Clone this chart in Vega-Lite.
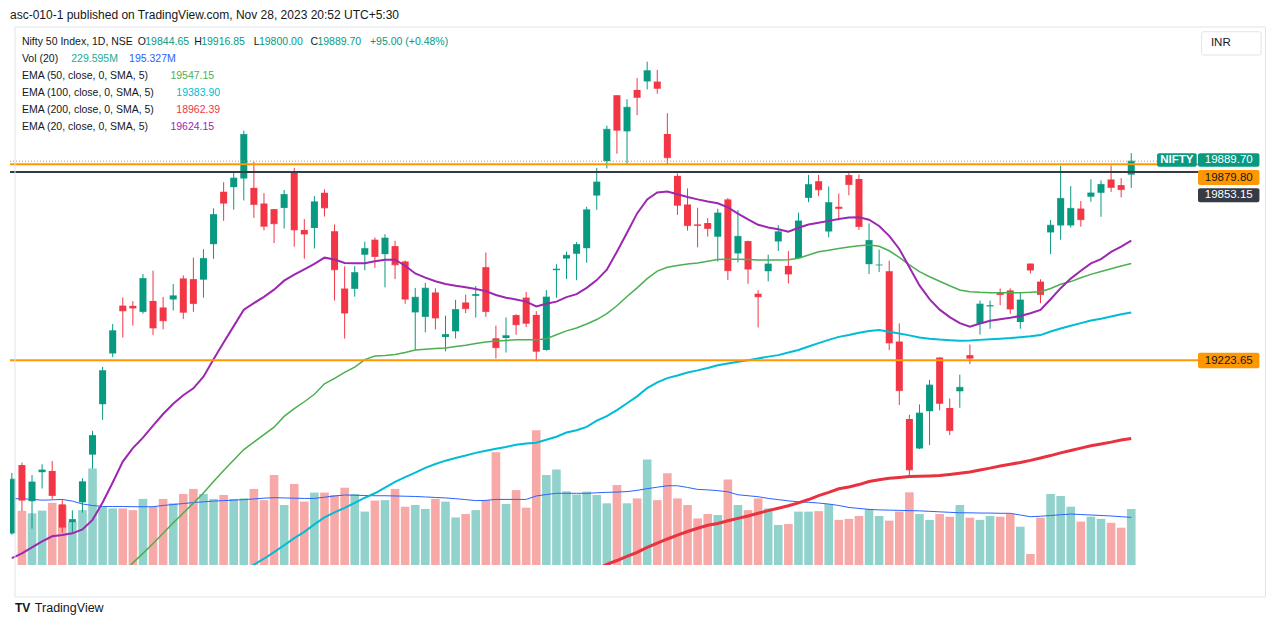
{
"$schema":"https://vega.github.io/schema/vega-lite/v6.json",
"width":1192,"height":538,
"autosize":{"type":"none"},
"padding":{"left":10,"top":27,"right":79,"bottom":62},
"background":"#ffffff",
"title":{"text":"asc-010-1 published on TradingView.com, Nov 28, 2023 20:52 UTC+5:30","anchor":"start","frame":"group","fontSize":12,"fontWeight":"normal","font":"Liberation Sans","color":"#131722","offset":5},
"config":{"view":{"stroke":null},"font":"Liberation Sans","text":{"font":"Liberation Sans"}},
"datasets":{"bars":[
{"i":-1,"d":"2023-06-16","o":18644.55,"h":18847,"l":18640,"c":18826,"vm":272,"e20":18562},
{"i":0,"d":"2023-06-19","o":18873.3,"h":18881.45,"l":18719.15,"c":18755.9,"v":222,"vm":272,"e20":18578},
{"i":1,"d":"2023-06-20","o":18752.35,"h":18839.7,"l":18660.65,"c":18816.7,"v":212,"vm":269,"e20":18598},
{"i":2,"d":"2023-06-21","o":18849.4,"h":18875.9,"l":18794.85,"c":18856.85,"v":223,"vm":266,"e20":18618},
{"i":3,"d":"2023-06-22","o":18853.6,"h":18886.6,"l":18759.5,"c":18771.25,"v":255,"vm":267,"e20":18635},
{"i":4,"d":"2023-06-23","o":18741.85,"h":18756.4,"l":18647.1,"c":18665.5,"v":246,"vm":269,"e20":18639},
{"i":5,"d":"2023-06-26","o":18682.35,"h":18722.05,"l":18646.7,"c":18691.2,"v":178,"vm":262,"e20":18645},
{"i":6,"d":"2023-06-27","o":18748.55,"h":18829.25,"l":18714.25,"c":18817.4,"v":225,"vm":250,"e20":18658},
{"i":7,"d":"2023-06-28","o":18908.15,"h":18987.8,"l":18861.35,"c":18972.1,"v":396,"vm":244,"e20":18690},
{"i":8,"d":"2023-06-30","o":19076.85,"h":19201.7,"l":19024.6,"c":19189.05,"v":239,"vm":240,"e20":18748},
{"i":9,"d":"2023-07-03","o":19246.5,"h":19345.1,"l":19234.4,"c":19322.55,"v":232,"vm":240,"e20":18815},
{"i":10,"d":"2023-07-04","o":19406.7,"h":19434.15,"l":19300,"c":19389,"v":232,"vm":240,"e20":18885,"e50":18512},
{"i":11,"d":"2023-07-05","o":19405.75,"h":19421.6,"l":19339.6,"c":19398.5,"v":225,"vm":239,"e20":18930,"e50":18546},
{"i":12,"d":"2023-07-06","o":19385.7,"h":19512.2,"l":19379.3,"c":19497.3,"v":271,"vm":239,"e20":18965,"e50":18578},
{"i":13,"d":"2023-07-07","o":19422.2,"h":19523.6,"l":19308,"c":19331.8,"v":239,"vm":239,"e20":19005,"e50":18611},
{"i":14,"d":"2023-07-10","o":19400.35,"h":19435.85,"l":19327.1,"c":19355.9,"v":271,"vm":244,"e20":19044,"e50":18645},
{"i":15,"d":"2023-07-11","o":19427.1,"h":19478.8,"l":19390,"c":19439.4,"v":253,"vm":248,"e20":19078,"e50":18680},
{"i":16,"d":"2023-07-12","o":19497.45,"h":19507.7,"l":19362,"c":19384.3,"v":291,"vm":252,"e20":19107,"e50":18713},
{"i":17,"d":"2023-07-13","o":19495.2,"h":19567,"l":19385.8,"c":19413.75,"v":312,"vm":256,"e20":19130,"e50":18746},
{"i":18,"d":"2023-07-14","o":19493.45,"h":19595.35,"l":19433.05,"c":19564.5,"v":291,"vm":259,"e20":19169,"e50":18780},
{"i":19,"d":"2023-07-17","o":19612.15,"h":19731.85,"l":19562.95,"c":19711.45,"v":271,"vm":262,"e20":19227,"e50":18818},
{"i":20,"d":"2023-07-18","o":19787.5,"h":19819.45,"l":19690.2,"c":19749.25,"v":287,"vm":264,"e20":19283,"e50":18855},
{"i":21,"d":"2023-07-19","o":19802.95,"h":19851.7,"l":19727.45,"c":19833.15,"v":271,"vm":266,"e20":19338,"e50":18890},
{"i":22,"d":"2023-07-20","o":19831.7,"h":19991.85,"l":19758.4,"c":19979.15,"v":273,"vm":268,"e20":19393,"e50":18925,"e100":18518},
{"i":23,"d":"2023-07-21","o":19800.45,"h":19887.4,"l":19700,"c":19745,"v":312,"vm":271,"e20":19415,"e50":18950,"e100":18540},
{"i":24,"d":"2023-07-24","o":19748.45,"h":19782.8,"l":19658.3,"c":19672.35,"v":266,"vm":274,"e20":19436,"e50":18975,"e100":18560},
{"i":25,"d":"2023-07-25","o":19729.35,"h":19729.35,"l":19615.95,"c":19680.6,"v":369,"vm":276,"e20":19460,"e50":19000,"e100":18582},
{"i":26,"d":"2023-07-26","o":19733.35,"h":19793.35,"l":19664.55,"c":19778.3,"v":246,"vm":275,"e20":19490,"e50":19036,"e100":18605},
{"i":27,"d":"2023-07-27","o":19850.9,"h":19867.55,"l":19603.55,"c":19659.9,"v":332,"vm":274,"e20":19510,"e50":19062,"e100":18629},
{"i":28,"d":"2023-07-28","o":19659.75,"h":19695.9,"l":19563.1,"c":19646.05,"v":260,"vm":273,"e20":19528,"e50":19085,"e100":18650},
{"i":29,"d":"2023-07-31","o":19666.35,"h":19772.75,"l":19597.6,"c":19753.8,"v":297,"vm":273,"e20":19546,"e50":19110,"e100":18675},
{"i":30,"d":"2023-08-01","o":19784,"h":19795.6,"l":19704.6,"c":19733.55,"v":297,"vm":278,"e20":19567,"e50":19145,"e100":18698},
{"i":31,"d":"2023-08-02","o":19655.4,"h":19678.25,"l":19423.55,"c":19526.55,"v":287,"vm":283,"e20":19561,"e50":19163,"e100":18715},
{"i":32,"d":"2023-08-03","o":19463.75,"h":19537.65,"l":19296.45,"c":19381.65,"v":317,"vm":287,"e20":19549,"e50":19183,"e100":18730},
{"i":33,"d":"2023-08-04","o":19462.8,"h":19538.85,"l":19436.45,"c":19517,"v":291,"vm":286,"e20":19548,"e50":19201,"e100":18747},
{"i":34,"d":"2023-08-07","o":19576.85,"h":19620.45,"l":19524.8,"c":19597.3,"v":219,"vm":285,"e20":19548,"e50":19226,"e100":18764},
{"i":35,"d":"2023-08-08","o":19627.2,"h":19634.4,"l":19533.1,"c":19570.85,"v":264,"vm":284,"e20":19555,"e50":19238,"e100":18779},
{"i":36,"d":"2023-08-09","o":19578.8,"h":19645.5,"l":19467.5,"c":19632.55,"v":266,"vm":284,"e20":19560,"e50":19240,"e100":18798},
{"i":37,"d":"2023-08-10","o":19605.55,"h":19623.6,"l":19495.4,"c":19543.1,"v":312,"vm":283,"e20":19560,"e50":19243,"e100":18817},
{"i":38,"d":"2023-08-11","o":19554.25,"h":19557.75,"l":19412.75,"c":19428.3,"v":239,"vm":282,"e20":19540,"e50":19250,"e100":18833},
{"i":39,"d":"2023-08-14","o":19383.95,"h":19465.85,"l":19257.9,"c":19434.55,"v":246,"vm":281,"e20":19514,"e50":19258,"e100":18848},
{"i":40,"d":"2023-08-16","o":19369,"h":19482.75,"l":19317.2,"c":19465,"v":230,"vm":279,"e20":19500,"e50":19261,"e100":18864},
{"i":41,"d":"2023-08-17","o":19450.55,"h":19464.45,"l":19326.6,"c":19365.25,"v":271,"vm":277,"e20":19488,"e50":19263,"e100":18877},
{"i":42,"d":"2023-08-18","o":19301.75,"h":19373.15,"l":19253.6,"c":19310.15,"v":260,"vm":275,"e20":19479,"e50":19265,"e100":18888},
{"i":43,"d":"2023-08-21","o":19320.65,"h":19425.95,"l":19296.3,"c":19393.6,"v":195,"vm":272,"e20":19473,"e50":19270,"e100":18897},
{"i":44,"d":"2023-08-22","o":19417.1,"h":19443.5,"l":19381.3,"c":19396.45,"v":209,"vm":268,"e20":19468,"e50":19274,"e100":18905},
{"i":45,"d":"2023-08-23","o":19439.2,"h":19472.05,"l":19366.6,"c":19444,"v":225,"vm":264,"e20":19462,"e50":19280,"e100":18914},
{"i":46,"d":"2023-08-24","o":19535.15,"h":19584.45,"l":19369,"c":19386.7,"v":266,"vm":265,"e20":19455,"e50":19285,"e100":18921},
{"i":47,"d":"2023-08-25","o":19297.4,"h":19339.55,"l":19229.7,"c":19265.8,"v":462,"vm":269,"e20":19442,"e50":19288,"e100":18928},
{"i":48,"d":"2023-08-28","o":19298.35,"h":19366.85,"l":19249.7,"c":19306.05,"v":250,"vm":269,"e20":19433,"e50":19290,"e100":18934},
{"i":49,"d":"2023-08-29","o":19374.85,"h":19377.9,"l":19309.1,"c":19342.65,"v":307,"vm":269,"e20":19427,"e50":19292,"e100":18941},
{"i":50,"d":"2023-08-30","o":19433.45,"h":19452.8,"l":19334.75,"c":19347.45,"v":235,"vm":269,"e20":19420,"e50":19292,"e100":18945},
{"i":51,"d":"2023-08-31","o":19375.55,"h":19388.2,"l":19223.65,"c":19253.8,"v":553,"vm":283,"e20":19404,"e50":19292,"e100":18948},
{"i":52,"d":"2023-09-01","o":19258.15,"h":19458.55,"l":19255.7,"c":19435.3,"v":369,"vm":289,"e20":19413,"e50":19296,"e100":18958},
{"i":53,"d":"2023-09-04","o":19525.05,"h":19545.15,"l":19432.85,"c":19528.8,"v":392,"vm":294,"e20":19420,"e50":19309,"e100":18968},
{"i":54,"d":"2023-09-05","o":19563.95,"h":19587.05,"l":19495.2,"c":19574.9,"v":302,"vm":294,"e20":19435,"e50":19322,"e100":18982},
{"i":55,"d":"2023-09-06","o":19580,"h":19619.15,"l":19491.5,"c":19611.05,"v":289,"vm":294,"e20":19445,"e50":19332,"e100":18990},
{"i":56,"d":"2023-09-07","o":19598.65,"h":19737.4,"l":19550.05,"c":19727.05,"v":301,"vm":294,"e20":19466,"e50":19345,"e100":19001},
{"i":57,"d":"2023-09-08","o":19774.8,"h":19867.15,"l":19727.05,"c":19819.95,"v":287,"vm":296,"e20":19492,"e50":19360,"e100":19022,"e200":18525},
{"i":58,"d":"2023-09-11","o":19890,"h":20008.15,"l":19865.35,"c":19996.35,"v":253,"vm":298,"e20":19527,"e50":19380,"e100":19037,"e200":18541},
{"i":59,"d":"2023-09-12","o":20110.35,"h":20110.35,"l":19914.65,"c":19993.2,"v":328,"vm":299,"e20":19587,"e50":19406,"e100":19057,"e200":18554},
{"i":60,"d":"2023-09-13","o":19989.5,"h":20096.9,"l":19878.85,"c":20070,"v":253,"vm":301,"e20":19650,"e50":19437,"e100":19080,"e200":18568},
{"i":61,"d":"2023-09-14","o":20127.95,"h":20167.65,"l":20043.45,"c":20103.1,"v":273,"vm":306,"e20":19715,"e50":19466,"e100":19103,"e200":18581},
{"i":62,"d":"2023-09-15","o":20156.45,"h":20222.45,"l":20129.7,"c":20192.35,"v":433,"vm":313,"e20":19762,"e50":19497,"e100":19131,"e200":18598},
{"i":63,"d":"2023-09-18","o":20155.95,"h":20195.35,"l":20115.7,"c":20133.3,"v":266,"vm":319,"e20":19785,"e50":19522,"e100":19150,"e200":18612},
{"i":64,"d":"2023-09-20","o":19980.75,"h":20050.35,"l":19878.85,"c":19901.4,"v":376,"vm":325,"e20":19788,"e50":19535,"e100":19164,"e200":18626},
{"i":65,"d":"2023-09-21","o":19840.55,"h":19848.75,"l":19709.95,"c":19742.35,"v":273,"vm":325,"e20":19779,"e50":19541,"e100":19173,"e200":18639},
{"i":66,"d":"2023-09-22","o":19744.85,"h":19798.65,"l":19657.5,"c":19674.25,"v":246,"vm":318,"e20":19770,"e50":19546,"e100":19183,"e200":18651},
{"i":67,"d":"2023-09-25","o":19678.2,"h":19734.15,"l":19601.55,"c":19674.55,"v":191,"vm":310,"e20":19762,"e50":19549,"e100":19190,"e200":18662},
{"i":68,"d":"2023-09-26","o":19682.8,"h":19699.35,"l":19637.45,"c":19664.7,"v":209,"vm":308,"e20":19755,"e50":19555,"e100":19198,"e200":18672},
{"i":69,"d":"2023-09-27","o":19637.05,"h":19730.7,"l":19554,"c":19716.45,"v":205,"vm":305,"e20":19749,"e50":19561,"e100":19207,"e200":18678},
{"i":70,"d":"2023-09-28","o":19761.8,"h":19766.65,"l":19492.1,"c":19523.55,"v":351,"vm":300,"e20":19735,"e50":19562,"e100":19213,"e200":18687},
{"i":71,"d":"2023-09-29","o":19581.2,"h":19726.25,"l":19551.05,"c":19638.3,"v":246,"vm":288,"e20":19714,"e50":19562,"e100":19219,"e200":18695},
{"i":72,"d":"2023-10-03","o":19622.4,"h":19623.6,"l":19479.65,"c":19528.75,"v":225,"vm":284,"e20":19695,"e50":19561,"e100":19224,"e200":18703},
{"i":73,"d":"2023-10-04","o":19446.3,"h":19457.8,"l":19333.6,"c":19436.1,"v":273,"vm":280,"e20":19677,"e50":19559,"e100":19230,"e200":18712},
{"i":74,"d":"2023-10-05","o":19521.6,"h":19576.95,"l":19487.75,"c":19545.75,"v":232,"vm":273,"e20":19668,"e50":19559,"e100":19236,"e200":18721},
{"i":75,"d":"2023-10-06","o":19621.2,"h":19675.75,"l":19589.4,"c":19653.5,"v":164,"vm":268,"e20":19662,"e50":19559,"e100":19241,"e200":18729},
{"i":76,"d":"2023-10-09","o":19539.45,"h":19588.95,"l":19480.5,"c":19512.35,"v":168,"vm":263,"e20":19654,"e50":19560,"e100":19250,"e200":18737},
{"i":77,"d":"2023-10-10","o":19565.65,"h":19717.8,"l":19565.45,"c":19689.85,"v":219,"vm":259,"e20":19667,"e50":19565,"e100":19258,"e200":18747},
{"i":78,"d":"2023-10-11","o":19767,"h":19843.6,"l":19752.5,"c":19811.35,"v":219,"vm":257,"e20":19678,"e50":19576,"e100":19270,"e200":18758},
{"i":79,"d":"2023-10-12","o":19822.7,"h":19843.65,"l":19772.65,"c":19794,"v":221,"vm":254,"e20":19684,"e50":19587,"e100":19281,"e200":18771},
{"i":80,"d":"2023-10-13","o":19654.55,"h":19805.4,"l":19635.3,"c":19751.05,"v":250,"vm":250,"e20":19690,"e50":19592,"e100":19292,"e200":18782},
{"i":81,"d":"2023-10-16","o":19737.25,"h":19781.3,"l":19691.85,"c":19731.75,"v":185,"vm":244,"e20":19696,"e50":19598,"e100":19302,"e200":18794},
{"i":82,"d":"2023-10-17","o":19843.2,"h":19849.75,"l":19775.65,"c":19811.5,"v":189,"vm":236,"e20":19701,"e50":19603,"e100":19308,"e200":18800},
{"i":83,"d":"2023-10-18","o":19830,"h":19845,"l":19659.95,"c":19671.1,"v":201,"vm":232,"e20":19702,"e50":19607,"e100":19316,"e200":18808},
{"i":84,"d":"2023-10-19","o":19545.2,"h":19681.8,"l":19512.35,"c":19624.7,"v":230,"vm":228,"e20":19694,"e50":19609,"e100":19322,"e200":18818},
{"i":85,"d":"2023-10-20","o":19542.15,"h":19593.8,"l":19518.7,"c":19542.65,"v":201,"vm":226,"e20":19673,"e50":19605,"e100":19325,"e200":18824},
{"i":86,"d":"2023-10-23","o":19521.6,"h":19556.85,"l":19257.85,"c":19281.75,"v":182,"vm":225,"e20":19640,"e50":19590,"e100":19319,"e200":18829},
{"i":87,"d":"2023-10-25","o":19286.45,"h":19347.3,"l":19074.15,"c":19122.15,"v":219,"vm":224,"e20":19596,"e50":19568,"e100":19313,"e200":18832},
{"i":88,"d":"2023-10-26","o":19027.25,"h":19041.7,"l":18837.85,"c":18857.25,"v":298,"vm":223,"e20":19535,"e50":19543,"e100":19307,"e200":18835},
{"i":89,"d":"2023-10-27","o":18928.75,"h":19076.15,"l":18926.65,"c":19047.25,"v":209,"vm":222,"e20":19474,"e50":19520,"e100":19300,"e200":18836},
{"i":90,"d":"2023-10-30","o":19053.4,"h":19158.5,"l":18940,"c":19140.9,"v":185,"vm":220,"e20":19428,"e50":19503,"e100":19296,"e200":18837},
{"i":91,"d":"2023-10-31","o":19232.95,"h":19233.7,"l":19056.45,"c":19079.6,"v":209,"vm":218,"e20":19393,"e50":19488,"e100":19293,"e200":18838},
{"i":92,"d":"2023-11-01","o":19064.05,"h":19096.25,"l":18973.7,"c":18989.15,"v":198,"vm":216,"e20":19368,"e50":19473,"e100":19291,"e200":18842},
{"i":93,"d":"2023-11-02","o":19120,"h":19175.6,"l":19064.85,"c":19133.25,"v":246,"vm":214,"e20":19348,"e50":19459,"e100":19289,"e200":18846},
{"i":94,"d":"2023-11-03","o":19241,"h":19276.25,"l":19210.9,"c":19230.6,"v":194,"vm":214,"e20":19336,"e50":19453,"e100":19290,"e200":18850},
{"i":95,"d":"2023-11-06","o":19345.85,"h":19423.5,"l":19309.7,"c":19411.75,"v":185,"vm":213,"e20":19347,"e50":19451,"e100":19292,"e200":18857},
{"i":96,"d":"2023-11-07","o":19404.15,"h":19423.3,"l":19329.1,"c":19406.7,"v":201,"vm":213,"e20":19356,"e50":19450,"e100":19294,"e200":18863},
{"i":97,"d":"2023-11-08","o":19449.6,"h":19463.9,"l":19407.9,"c":19443.5,"v":198,"vm":212,"e20":19361,"e50":19450,"e100":19296,"e200":18870},
{"i":98,"d":"2023-11-09","o":19457.45,"h":19464.4,"l":19378.95,"c":19395.3,"v":209,"vm":212,"e20":19366,"e50":19450,"e100":19298,"e200":18876},
{"i":99,"d":"2023-11-10","o":19351.85,"h":19451.3,"l":19329.45,"c":19425.35,"v":157,"vm":205,"e20":19372,"e50":19450,"e100":19301,"e200":18882},
{"i":100,"d":"2023-11-12","o":19547.25,"h":19547.25,"l":19514,"c":19525.55,"v":45,"vm":198,"e20":19381,"e50":19451,"e100":19304,"e200":18889},
{"i":101,"d":"2023-11-13","o":19486.8,"h":19494.6,"l":19414.75,"c":19443.55,"v":194,"vm":200,"e20":19392,"e50":19453,"e100":19308,"e200":18897},
{"i":102,"d":"2023-11-15","o":19651.4,"h":19693.2,"l":19579.3,"c":19675.45,"v":291,"vm":203,"e20":19428,"e50":19464,"e100":19320,"e200":18905},
{"i":103,"d":"2023-11-16","o":19674.7,"h":19875.25,"l":19627,"c":19765.2,"v":283,"vm":206,"e20":19465,"e50":19478,"e100":19330,"e200":18914},
{"i":104,"d":"2023-11-17","o":19674.75,"h":19806,"l":19667.45,"c":19731.8,"v":239,"vm":209,"e20":19497,"e50":19487,"e100":19339,"e200":18922},
{"i":105,"d":"2023-11-20","o":19731.15,"h":19756.45,"l":19670.5,"c":19694,"v":178,"vm":207,"e20":19523,"e50":19500,"e100":19348,"e200":18930},
{"i":106,"d":"2023-11-21","o":19770.9,"h":19829.1,"l":19754.05,"c":19783.4,"v":198,"vm":205,"e20":19548,"e50":19511,"e100":19357,"e200":18938},
{"i":107,"d":"2023-11-22","o":19784,"h":19825.55,"l":19703.85,"c":19811.85,"v":189,"vm":203,"e20":19562,"e50":19521,"e100":19363,"e200":18944},
{"i":108,"d":"2023-11-23","o":19828.45,"h":19875.15,"l":19786.75,"c":19802,"v":173,"vm":201,"e20":19586,"e50":19530,"e100":19370,"e200":18950},
{"i":109,"d":"2023-11-24","o":19809.6,"h":19832.85,"l":19768.85,"c":19794.7,"v":153,"vm":198,"e20":19604,"e50":19539,"e100":19378,"e200":18957},
{"i":110,"d":"2023-11-28","o":19844.65,"h":19916.85,"l":19800,"c":19889.7,"v":229.6,"vm":195.3,"e20":19624.15,"e50":19547.15,"e100":19383.9,"e200":18962.39}
]},
"layer":[
{"data":{"name":"bars"},"layer":[
 {"mark":{"type":"bar","orient":"vertical","size":8.6,"clip":true},
  "encoding":{
   "x":{"field":"i","type":"quantitative","scale":{"domain":[-0.688,116.52],"nice":false,"zero":false},
        "axis":{"values":[0,9,19,30,39,52,63,72,81,92,101,113],"labelExpr":"['19','Jul','17','Aug','14','Sep','18','Oct','16','Nov','13','Dec'][indexof([0,9,19,30,39,52,63,72,81,92,101,113], datum.value)]","title":null,"domain":false,"ticks":false,"grid":true,"gridColor":"#f0f3fa","labelColor":"#131722","labelFontSize":11.5,"labelFont":"Liberation Sans","labelPadding":7,"labelFlush":false,"labelOverlap":false}},
   "y":{"field":"v","type":"quantitative","scale":{"domain":[0,2206],"nice":false,"zero":false},"axis":null},
   "color":{"condition":{"test":"datum.c >= datum.o","value":"#92d2cc"},"value":"#f7a9a7"}}},
 {"mark":{"type":"line","color":"#2962ff","strokeWidth":1,"clip":true},
  "encoding":{
   "x":{"field":"i","type":"quantitative","scale":{"domain":[-0.688,116.52],"nice":false,"zero":false},"axis":null},
   "y":{"field":"vm","type":"quantitative","scale":{"domain":[0,2206],"nice":false,"zero":false},"axis":null}}}
]},
{"layer":[
 {"data":{"name":"bars"},"mark":{"type":"rule","strokeWidth":1,"clip":true},
  "encoding":{
   "x":{"field":"i","type":"quantitative","scale":{"domain":[-0.688,116.52],"nice":false,"zero":false},"axis":null},
   "y":{"field":"l","type":"quantitative","scale":{"domain":[18539,20338.5],"nice":false,"zero":false},
        "axis":{"orient":"right","values":[18700,18900,19100,19300,19500,19700,19900,20100,20300],"labelExpr":"datum.value == 19900 || datum.value == 20300 ? '' : format(datum.value, '.2f')","title":null,"domain":false,"ticks":false,"grid":true,"gridColor":"#f0f3fa","labelColor":"#131722","labelFontSize":11.5,"labelFont":"Liberation Sans","labelPadding":10,"labelOverlap":false}},
   "y2":{"field":"h"},
   "color":{"condition":{"test":"datum.c >= datum.o","value":"#089981"},"value":"#f23645"}}},
 {"data":{"name":"bars"},"mark":{"type":"bar","orient":"vertical","size":7,"clip":true},
  "encoding":{
   "x":{"field":"i","type":"quantitative","scale":{"domain":[-0.688,116.52],"nice":false,"zero":false},"axis":null},
   "y":{"field":"o","type":"quantitative","scale":{"domain":[18539,20338.5],"nice":false,"zero":false},"axis":null},
   "y2":{"field":"c"},
   "color":{"condition":{"test":"datum.c >= datum.o","value":"#089981"},"value":"#f23645"}}},
 {"data":{"name":"bars"},"mark":{"type":"tick","orient":"horizontal","size":7,"thickness":1,"clip":true},
  "encoding":{
   "x":{"field":"i","type":"quantitative","scale":{"domain":[-0.688,116.52],"nice":false,"zero":false},"axis":null},
   "y":{"field":"c","type":"quantitative","scale":{"domain":[18539,20338.5],"nice":false,"zero":false},"axis":null},
   "color":{"condition":{"test":"datum.c >= datum.o","value":"#089981"},"value":"#f23645"}}},
 {"data":{"name":"bars"},"mark":{"type":"line","color":"#4caf50","strokeWidth":1.5,"clip":true},
  "encoding":{
   "x":{"field":"i","type":"quantitative","scale":{"domain":[-0.688,116.52],"nice":false,"zero":false},"axis":null},
   "y":{"field":"e50","type":"quantitative","scale":{"domain":[18539,20338.5],"nice":false,"zero":false},"axis":null}}},
 {"data":{"name":"bars"},"mark":{"type":"line","color":"#00bcd4","strokeWidth":2,"clip":true},
  "encoding":{
   "x":{"field":"i","type":"quantitative","scale":{"domain":[-0.688,116.52],"nice":false,"zero":false},"axis":null},
   "y":{"field":"e100","type":"quantitative","scale":{"domain":[18539,20338.5],"nice":false,"zero":false},"axis":null}}},
 {"data":{"name":"bars"},"mark":{"type":"line","color":"#e8323f","strokeWidth":3,"clip":true},
  "encoding":{
   "x":{"field":"i","type":"quantitative","scale":{"domain":[-0.688,116.52],"nice":false,"zero":false},"axis":null},
   "y":{"field":"e200","type":"quantitative","scale":{"domain":[18539,20338.5],"nice":false,"zero":false},"axis":null}}},
 {"data":{"name":"bars"},"mark":{"type":"line","color":"#9c27b0","strokeWidth":2,"clip":true},
  "encoding":{
   "x":{"field":"i","type":"quantitative","scale":{"domain":[-0.688,116.52],"nice":false,"zero":false},"axis":null},
   "y":{"field":"e20","type":"quantitative","scale":{"domain":[18539,20338.5],"nice":false,"zero":false},"axis":null}}},
 {"data":{"values":[{}]},"mark":{"type":"rule","color":"#ff9800","strokeWidth":2},
  "encoding":{"y":{"datum":19223.65,"type":"quantitative","scale":{"domain":[18539,20338.5],"nice":false,"zero":false},"axis":null}}},
 {"data":{"values":[{}]},"mark":{"type":"rule","color":"#363a45","strokeWidth":2},
  "encoding":{"y":{"datum":19853.15,"type":"quantitative","scale":{"domain":[18539,20338.5],"nice":false,"zero":false},"axis":null}}},
 {"data":{"values":[{}]},"mark":{"type":"rule","color":"#ff9800","strokeWidth":2},
  "encoding":{"y":{"datum":19879.8,"type":"quantitative","scale":{"domain":[18539,20338.5],"nice":false,"zero":false},"axis":null}}},
 {"data":{"values":[{}]},"mark":{"type":"rule","color":"#c8953a","strokeWidth":1,"strokeDash":[1,2]},
  "encoding":{"y":{"datum":19889.7,"type":"quantitative","scale":{"domain":[18539,20338.5],"nice":false,"zero":false},"axis":null}}},
 {"data":{"values":[{}]},"mark":{"type":"rect","fillOpacity":0,"stroke":"#e0e3eb","strokeWidth":1},
  "encoding":{"x":{"datum":-0.688,"type":"quantitative","scale":{"domain":[-0.688,116.52],"nice":false,"zero":false},"axis":null},"x2":{"datum":123.31},
   "y":{"datum":18432,"type":"quantitative","scale":{"domain":[18539,20338.5],"nice":false,"zero":false},"axis":null},"y2":{"datum":20338.5}}},
 {"data":{"values":[{}]},"mark":{"type":"rect","fill":"#089981","cornerRadius":2},
  "encoding":{"x":{"datum":112.56,"type":"quantitative","scale":{"domain":[-0.688,116.52],"nice":false,"zero":false},"axis":null},"x2":{"datum":116.49},
   "y":{"datum":19871.2,"type":"quantitative","scale":{"domain":[18539,20338.5],"nice":false,"zero":false},"axis":null},"y2":{"datum":19916}}},
 {"data":{"values":[{}]},"mark":{"type":"rect","fill":"#089981","cornerRadius":2},
  "encoding":{"x":{"datum":116.62,"type":"quantitative","scale":{"domain":[-0.688,116.52],"nice":false,"zero":false},"axis":null},"x2":{"datum":122.71},
   "y":{"datum":19871.2,"type":"quantitative","scale":{"domain":[18539,20338.5],"nice":false,"zero":false},"axis":null},"y2":{"datum":19916}}},
 {"data":{"values":[{}]},"mark":{"type":"rect","fill":"#ff9800","cornerRadius":2},
  "encoding":{"x":{"datum":116.62,"type":"quantitative","scale":{"domain":[-0.688,116.52],"nice":false,"zero":false},"axis":null},"x2":{"datum":122.71},
   "y":{"datum":19810,"type":"quantitative","scale":{"domain":[18539,20338.5],"nice":false,"zero":false},"axis":null},"y2":{"datum":19860.2}}},
 {"data":{"values":[{}]},"mark":{"type":"rect","fill":"#363a45","cornerRadius":2},
  "encoding":{"x":{"datum":116.62,"type":"quantitative","scale":{"domain":[-0.688,116.52],"nice":false,"zero":false},"axis":null},"x2":{"datum":122.71},
   "y":{"datum":19752.2,"type":"quantitative","scale":{"domain":[18539,20338.5],"nice":false,"zero":false},"axis":null},"y2":{"datum":19799}}},
 {"data":{"values":[{}]},"mark":{"type":"rect","fill":"#ff9800","cornerRadius":2},
  "encoding":{"x":{"datum":116.62,"type":"quantitative","scale":{"domain":[-0.688,116.52],"nice":false,"zero":false},"axis":null},"x2":{"datum":122.71},
   "y":{"datum":19197,"type":"quantitative","scale":{"domain":[18539,20338.5],"nice":false,"zero":false},"axis":null},"y2":{"datum":19249.2}}},
 {"data":{"values":[{}]},"mark":{"type":"rect","fill":"#ffffff","stroke":"#e0e3eb","strokeWidth":1,"cornerRadius":2},
  "encoding":{"x":{"datum":116.98,"type":"quantitative","scale":{"domain":[-0.688,116.52],"nice":false,"zero":false},"axis":null},"x2":{"datum":122.88},
   "y":{"datum":20244.8,"type":"quantitative","scale":{"domain":[18539,20338.5],"nice":false,"zero":false},"axis":null},"y2":{"datum":20322.7}}},
 {"data":{"values":[{}]},"mark":{"type":"text","text":"INR","fontSize":11.5,"color":"#131722","align":"center","baseline":"middle"},
  "encoding":{"x":{"datum":118.88,"type":"quantitative","scale":{"domain":[-0.688,116.52],"nice":false,"zero":false},"axis":null},
   "y":{"datum":20284,"type":"quantitative","scale":{"domain":[18539,20338.5],"nice":false,"zero":false},"axis":null}}},
 {"data":{"values":[{}]},"mark":{"type":"text","text":"NIFTY","fontSize":11.5,"fontWeight":"bold","color":"#ffffff","align":"center","baseline":"middle"},
  "encoding":{"x":{"datum":114.52,"type":"quantitative","scale":{"domain":[-0.688,116.52],"nice":false,"zero":false},"axis":null},
   "y":{"datum":19893.6,"type":"quantitative","scale":{"domain":[18539,20338.5],"nice":false,"zero":false},"axis":null}}},
 {"data":{"values":[{}]},"mark":{"type":"text","text":"19889.70","fontSize":11.5,"color":"#ffffff","align":"center","baseline":"middle"},
  "encoding":{"x":{"datum":119.67,"type":"quantitative","scale":{"domain":[-0.688,116.52],"nice":false,"zero":false},"axis":null},
   "y":{"datum":19893.6,"type":"quantitative","scale":{"domain":[18539,20338.5],"nice":false,"zero":false},"axis":null}}},
 {"data":{"values":[{}]},"mark":{"type":"text","text":"19879.80","fontSize":11.5,"color":"#131722","align":"center","baseline":"middle"},
  "encoding":{"x":{"datum":119.67,"type":"quantitative","scale":{"domain":[-0.688,116.52],"nice":false,"zero":false},"axis":null},
   "y":{"datum":19835,"type":"quantitative","scale":{"domain":[18539,20338.5],"nice":false,"zero":false},"axis":null}}},
 {"data":{"values":[{}]},"mark":{"type":"text","text":"19853.15","fontSize":11.5,"color":"#ffffff","align":"center","baseline":"middle"},
  "encoding":{"x":{"datum":119.67,"type":"quantitative","scale":{"domain":[-0.688,116.52],"nice":false,"zero":false},"axis":null},
   "y":{"datum":19775.6,"type":"quantitative","scale":{"domain":[18539,20338.5],"nice":false,"zero":false},"axis":null}}},
 {"data":{"values":[{}]},"mark":{"type":"text","text":"19223.65","fontSize":11.5,"color":"#131722","align":"center","baseline":"middle"},
  "encoding":{"x":{"datum":119.67,"type":"quantitative","scale":{"domain":[-0.688,116.52],"nice":false,"zero":false},"axis":null},
   "y":{"datum":19223,"type":"quantitative","scale":{"domain":[18539,20338.5],"nice":false,"zero":false},"axis":null}}},
 {"data":{"values":[{}]},"mark":{"type":"text","text":["Nifty 50 Index, 1D, NSE","Vol (20)","EMA (50, close, 0, SMA, 5)","EMA (100, close, 0, SMA, 5)","EMA (200, close, 0, SMA, 5)","EMA (20, close, 0, SMA, 5)"],"lineHeight":17,"fontSize":10.5,"color":"#131722","align":"left","baseline":"middle"},
  "encoding":{"x":{"datum":0.0,"type":"quantitative","scale":{"domain":[-0.688,116.52],"nice":false,"zero":false},"axis":null},
   "y":{"datum":20289.3,"type":"quantitative","scale":{"domain":[18539,20338.5],"nice":false,"zero":false},"axis":null}}},
 {"data":{"values":[{}]},"mark":{"type":"text","text":"O","fontSize":10.5,"color":"#131722","align":"left","baseline":"middle"},
  "encoding":{"x":{"datum":11.48,"type":"quantitative","scale":{"domain":[-0.688,116.52],"nice":false,"zero":false},"axis":null},
   "y":{"datum":20289.3,"type":"quantitative","scale":{"domain":[18539,20338.5],"nice":false,"zero":false},"axis":null}}},
 {"data":{"values":[{}]},"mark":{"type":"text","text":"19844.65","fontSize":10.5,"color":"#089981","align":"left","baseline":"middle"},
  "encoding":{"x":{"datum":12.23,"type":"quantitative","scale":{"domain":[-0.688,116.52],"nice":false,"zero":false},"axis":null},
   "y":{"datum":20289.3,"type":"quantitative","scale":{"domain":[18539,20338.5],"nice":false,"zero":false},"axis":null}}},
 {"data":{"values":[{}]},"mark":{"type":"text","text":"H","fontSize":10.5,"color":"#131722","align":"left","baseline":"middle"},
  "encoding":{"x":{"datum":17.08,"type":"quantitative","scale":{"domain":[-0.688,116.52],"nice":false,"zero":false},"axis":null},
   "y":{"datum":20289.3,"type":"quantitative","scale":{"domain":[18539,20338.5],"nice":false,"zero":false},"axis":null}}},
 {"data":{"values":[{}]},"mark":{"type":"text","text":"19916.85","fontSize":10.5,"color":"#089981","align":"left","baseline":"middle"},
  "encoding":{"x":{"datum":17.77,"type":"quantitative","scale":{"domain":[-0.688,116.52],"nice":false,"zero":false},"axis":null},
   "y":{"datum":20289.3,"type":"quantitative","scale":{"domain":[18539,20338.5],"nice":false,"zero":false},"axis":null}}},
 {"data":{"values":[{}]},"mark":{"type":"text","text":"L","fontSize":10.5,"color":"#131722","align":"left","baseline":"middle"},
  "encoding":{"x":{"datum":22.98,"type":"quantitative","scale":{"domain":[-0.688,116.52],"nice":false,"zero":false},"axis":null},
   "y":{"datum":20289.3,"type":"quantitative","scale":{"domain":[18539,20338.5],"nice":false,"zero":false},"axis":null}}},
 {"data":{"values":[{}]},"mark":{"type":"text","text":"19800.00","fontSize":10.5,"color":"#089981","align":"left","baseline":"middle"},
  "encoding":{"x":{"datum":23.5,"type":"quantitative","scale":{"domain":[-0.688,116.52],"nice":false,"zero":false},"axis":null},
   "y":{"datum":20289.3,"type":"quantitative","scale":{"domain":[18539,20338.5],"nice":false,"zero":false},"axis":null}}},
 {"data":{"values":[{}]},"mark":{"type":"text","text":"C","fontSize":10.5,"color":"#131722","align":"left","baseline":"middle"},
  "encoding":{"x":{"datum":28.61,"type":"quantitative","scale":{"domain":[-0.688,116.52],"nice":false,"zero":false},"axis":null},
   "y":{"datum":20289.3,"type":"quantitative","scale":{"domain":[18539,20338.5],"nice":false,"zero":false},"axis":null}}},
 {"data":{"values":[{}]},"mark":{"type":"text","text":"19889.70","fontSize":10.5,"color":"#089981","align":"left","baseline":"middle"},
  "encoding":{"x":{"datum":29.3,"type":"quantitative","scale":{"domain":[-0.688,116.52],"nice":false,"zero":false},"axis":null},
   "y":{"datum":20289.3,"type":"quantitative","scale":{"domain":[18539,20338.5],"nice":false,"zero":false},"axis":null}}},
 {"data":{"values":[{}]},"mark":{"type":"text","text":"+95.00 (+0.48%)","fontSize":10.5,"color":"#089981","align":"left","baseline":"middle"},
  "encoding":{"x":{"datum":34.51,"type":"quantitative","scale":{"domain":[-0.688,116.52],"nice":false,"zero":false},"axis":null},
   "y":{"datum":20289.3,"type":"quantitative","scale":{"domain":[18539,20338.5],"nice":false,"zero":false},"axis":null}}},
 {"data":{"values":[{}]},"mark":{"type":"text","text":"229.595M","fontSize":10.5,"color":"#22ab94","align":"left","baseline":"middle"},
  "encoding":{"x":{"datum":4.89,"type":"quantitative","scale":{"domain":[-0.688,116.52],"nice":false,"zero":false},"axis":null},
   "y":{"datum":20231.4,"type":"quantitative","scale":{"domain":[18539,20338.5],"nice":false,"zero":false},"axis":null}}},
 {"data":{"values":[{}]},"mark":{"type":"text","text":"195.327M","fontSize":10.5,"color":"#2962ff","align":"left","baseline":"middle"},
  "encoding":{"x":{"datum":10.62,"type":"quantitative","scale":{"domain":[-0.688,116.52],"nice":false,"zero":false},"axis":null},
   "y":{"datum":20231.4,"type":"quantitative","scale":{"domain":[18539,20338.5],"nice":false,"zero":false},"axis":null}}},
 {"data":{"values":[{}]},"mark":{"type":"text","text":"19547.15","fontSize":10.5,"color":"#4caf50","align":"left","baseline":"middle"},
  "encoding":{"x":{"datum":14.72,"type":"quantitative","scale":{"domain":[-0.688,116.52],"nice":false,"zero":false},"axis":null},
   "y":{"datum":20174.6,"type":"quantitative","scale":{"domain":[18539,20338.5],"nice":false,"zero":false},"axis":null}}},
 {"data":{"values":[{}]},"mark":{"type":"text","text":"19383.90","fontSize":10.5,"color":"#00bcd4","align":"left","baseline":"middle"},
  "encoding":{"x":{"datum":15.31,"type":"quantitative","scale":{"domain":[-0.688,116.52],"nice":false,"zero":false},"axis":null},
   "y":{"datum":20117.7,"type":"quantitative","scale":{"domain":[18539,20338.5],"nice":false,"zero":false},"axis":null}}},
 {"data":{"values":[{}]},"mark":{"type":"text","text":"18962.39","fontSize":10.5,"color":"#f23645","align":"left","baseline":"middle"},
  "encoding":{"x":{"datum":15.31,"type":"quantitative","scale":{"domain":[-0.688,116.52],"nice":false,"zero":false},"axis":null},
   "y":{"datum":20060.9,"type":"quantitative","scale":{"domain":[18539,20338.5],"nice":false,"zero":false},"axis":null}}},
 {"data":{"values":[{}]},"mark":{"type":"text","text":"19624.15","fontSize":10.5,"color":"#9c27b0","align":"left","baseline":"middle"},
  "encoding":{"x":{"datum":14.72,"type":"quantitative","scale":{"domain":[-0.688,116.52],"nice":false,"zero":false},"axis":null},
   "y":{"datum":20004,"type":"quantitative","scale":{"domain":[18539,20338.5],"nice":false,"zero":false},"axis":null}}},
 {"data":{"values":[{}]},"mark":{"type":"text","text":"TV","fontSize":12,"fontWeight":900,"color":"#131722","align":"left","baseline":"middle"},
  "encoding":{"x":{"datum":-0.688,"type":"quantitative","scale":{"domain":[-0.688,116.52],"nice":false,"zero":false},"axis":null},
   "y":{"datum":18395.3,"type":"quantitative","scale":{"domain":[18539,20338.5],"nice":false,"zero":false},"axis":null}}},
 {"data":{"values":[{}]},"mark":{"type":"text","text":"TradingView","fontSize":12.5,"color":"#131722","align":"left","baseline":"middle"},
  "encoding":{"x":{"datum":1.28,"type":"quantitative","scale":{"domain":[-0.688,116.52],"nice":false,"zero":false},"axis":null},
   "y":{"datum":18395.3,"type":"quantitative","scale":{"domain":[18539,20338.5],"nice":false,"zero":false},"axis":null}}}
]}
],
"resolve":{"scale":{"y":"independent"}}
}
